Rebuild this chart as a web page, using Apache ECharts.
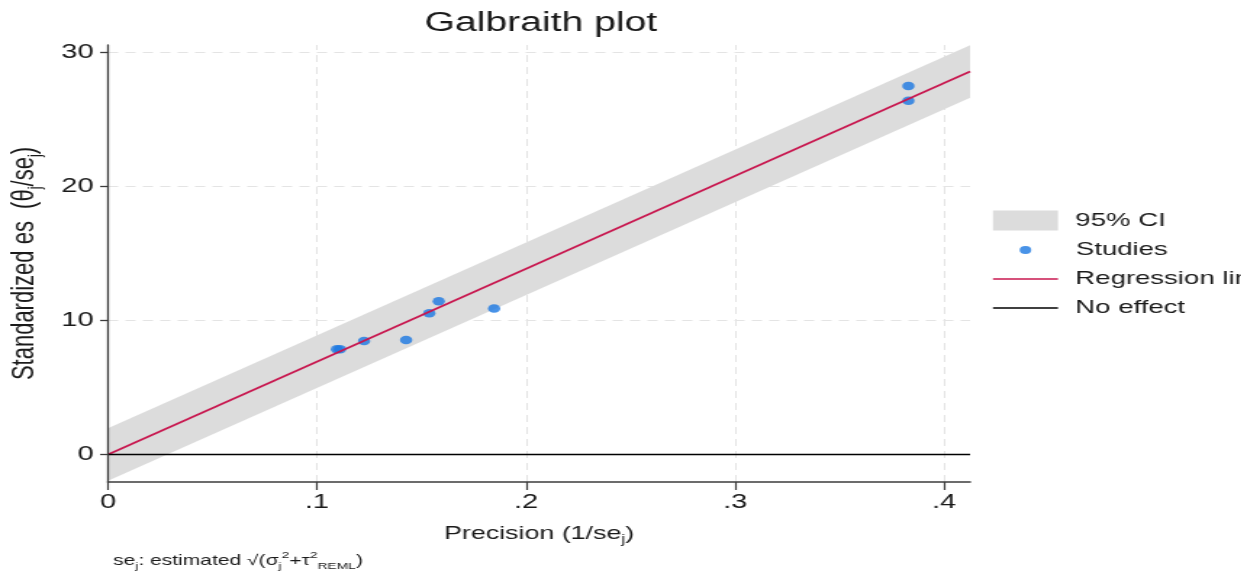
<!DOCTYPE html>
<html><head><meta charset="utf-8">
<script src="https://cdn.jsdelivr.net/npm/echarts@6/dist/echarts.min.js"></script>
<style>
html,body{margin:0;padding:0;background:#fff;overflow:hidden;width:1241px;height:571px;}
#chart{width:856px;height:571px;transform:scaleX(1.45);transform-origin:0 0;}
</style></head><body><div id="chart"></div>
<script>
// ---- data ----
const xTickValues = [0, 0.1, 0.2, 0.3, 0.4];
const xTickLabels = ['0', '.1', '.2', '.3', '.4'];
const yTickValues = [0, 10, 20, 30];
const yTickLabels = ['0', '10', '20', '30'];
const xRange = [0, 0.4124];
const yRange = [-2.05, 30.55];

const studyPrecision = [0.1095, 0.1110, 0.1225, 0.1426, 0.1537, 0.1582, 0.1847, 0.3829, 0.3829];
const studyStdEs     = [7.85,   7.85,   8.47,   8.54,   10.53,  11.43,  10.90,  27.50,  26.40];

const regX = [0, 0.4124];
const regY = [0, 28.57];
const ciX = [0, 0.4124];
const ciLow = [-1.96, 26.61];
const ciHigh = [1.96, 30.53];
const nullX = [0, 0.4124];
const nullY = [0, 0];
const gridX = [0.1, 0.2, 0.3, 0.4];
const gridY = [10, 20, 30];

// ---- chart ----
const FONT = "'Liberation Sans', Arial, Helvetica, sans-serif";
const TXT = '#1a1a1a';
const AX = '#3c3c3c';
const DOT = '#1b78e2';
const REG = '#c8174f';
const BAND = '#dcdcdc';
const chart = echarts.init(document.getElementById('chart'), null, {renderer: 'canvas'});

const subStyle = (fs) => ({fontSize: fs, fontFamily: FONT, color: TXT, verticalAlign: 'bottom'});

const legendBase = {
  orient: 'vertical', left: 684.8, itemWidth: 44.8, selectedMode: false, padding: 0,
  textStyle: {fontSize: 19, fontFamily: FONT, color: TXT, padding: [0, 0, 0, 7]}
};

const option = {
  backgroundColor: '#ffffff',
  animation: false,
  title: {
    text: 'Galbraith plot', left: 373, top: 10, textAlign: 'center', padding: 0,
    textStyle: {fontSize: 27, fontWeight: 'normal', fontFamily: FONT, color: TXT}
  },
  grid: {left: 74.5, right: 187, top: 45, bottom: 89, containLabel: false, outerBoundsMode: 'none'},
  xAxis: {
    type: 'value', min: xRange[0], max: xRange[1], z: 10,
    name: 'Precision (1/se{sub|j})', nameLocation: 'middle', nameGap: 40,
    nameTextStyle: {fontSize: 18.5, fontFamily: FONT, color: TXT, lineHeight: 24,
      rich: {sub: subStyle(12)}},
    axisLine: {show: true, onZero: false, lineStyle: {color: AX, width: 1.6}},
    axisTick: {show: true, length: 8, lineStyle: {color: AX, width: 1.2}, customValues: xTickValues},
    axisLabel: {show: true, margin: 10, fontSize: 20, fontFamily: FONT, color: TXT, customValues: xTickValues,
      formatter: (v) => { const i = xTickValues.findIndex(t => Math.abs(t - v) < 1e-9); return i >= 0 ? xTickLabels[i] : ''; }},
    splitLine: {show: false}
  },
  yAxis: {
    type: 'value', min: yRange[0], max: yRange[1], z: 10,
    name: 'Standardized es  (θ{sub|j}/se{sub|j})', nameLocation: 'middle', nameGap: 41, nameRotate: 90,
    nameTextStyle: {fontSize: 22, fontFamily: FONT, color: TXT, lineHeight: 28,
      rich: {sub: subStyle(13)}},
    axisLine: {show: true, onZero: false, lineStyle: {color: AX, width: 1.3}},
    axisTick: {show: true, length: 5.5, lineStyle: {color: AX, width: 1.3}, customValues: yTickValues},
    axisLabel: {show: true, margin: 10, fontSize: 20, fontFamily: FONT, color: TXT, customValues: yTickValues,
      formatter: (v) => { const i = yTickValues.findIndex(t => Math.abs(t - v) < 1e-9); return i >= 0 ? yTickLabels[i] : ''; }},
    splitLine: {show: false}
  },
  legend: [
    Object.assign({}, legendBase, {top: 210.5, itemHeight: 20,
      data: [{name: '95% CI', icon: 'rect', itemStyle: {color: BAND}}]}),
    Object.assign({}, legendBase, {top: 240.5, left: 703.2, itemWidth: 8, itemHeight: 8,
      textStyle: {fontSize: 19, fontFamily: FONT, color: TXT, padding: [0, 0, 0, 25.8]},
      data: [{name: 'Studies', icon: 'circle', itemStyle: {color: DOT}}]}),
    Object.assign({}, legendBase, {top: 269.5, itemHeight: 1.6,
      data: [{name: 'Regression line', icon: 'rect', itemStyle: {color: REG}}]}),
    Object.assign({}, legendBase, {top: 298.5, itemHeight: 1.6,
      data: [{name: 'No effect', icon: 'rect', itemStyle: {color: '#000000'}}]})
  ],
  graphic: [{
    type: 'text', left: 78, top: 550, z: 10,
    style: {
      text: 'se{sub|j}: estimated √(σ{sub|j}{sup|2}+τ{sup|2}{sub|REML})',
      fontSize: 14.5, fontFamily: FONT, fill: TXT, lineHeight: 21,
      rich: {
        sub: {fontSize: 9.5, fontFamily: FONT, fill: TXT, verticalAlign: 'bottom'},
        sup: {fontSize: 9.5, fontFamily: FONT, fill: TXT, verticalAlign: 'top'}
      }
    }
  }],
  series: [
    {
      name: '95% CI', type: 'custom', z: 2, clip: true, silent: true,
      itemStyle: {color: BAND},
      data: ciX.map((x, i) => [x, ciLow[i], ciHigh[i]]),
      encode: {x: 0, y: [1, 2]},
      renderItem: function (params, api) {
        if (params.dataIndex !== 0) return null;
        const pts = [];
        for (let i = 0; i < ciX.length; i++) pts.push(api.coord([ciX[i], ciHigh[i]]));
        for (let i = ciX.length - 1; i >= 0; i--) pts.push(api.coord([ciX[i], ciLow[i]]));
        return {type: 'polygon', shape: {points: pts}, style: {fill: BAND}};
      }
    },
    {
      name: 'Studies', type: 'scatter', z: 3, silent: true,
      symbol: 'circle', symbolSize: 8.5,
      itemStyle: {color: DOT},
      data: studyPrecision.map((x, i) => [x, studyStdEs[i]]),
      markLine: {
        silent: true, symbol: 'none', z: 1, animation: false,
        label: {show: false},
        lineStyle: {color: '#e4e4e4', width: 1, type: [7, 5]},
        data: gridX.map(v => ({xAxis: v})).concat(gridY.map(v => ({yAxis: v})))
      }
    },
    {
      name: 'Regression line', type: 'line', z: 4, silent: true,
      symbol: 'none', showSymbol: false,
      lineStyle: {color: REG, width: 1.7},
      itemStyle: {color: REG},
      data: regX.map((x, i) => [x, regY[i]])
    },
    {
      name: 'No effect', type: 'line', z: 5, silent: true,
      symbol: 'none', showSymbol: false,
      lineStyle: {color: '#000000', width: 1.6},
      itemStyle: {color: '#000000'},
      data: nullX.map((x, i) => [x, nullY[i]])
    }
  ]
};
chart.setOption(option);
</script></body></html>
